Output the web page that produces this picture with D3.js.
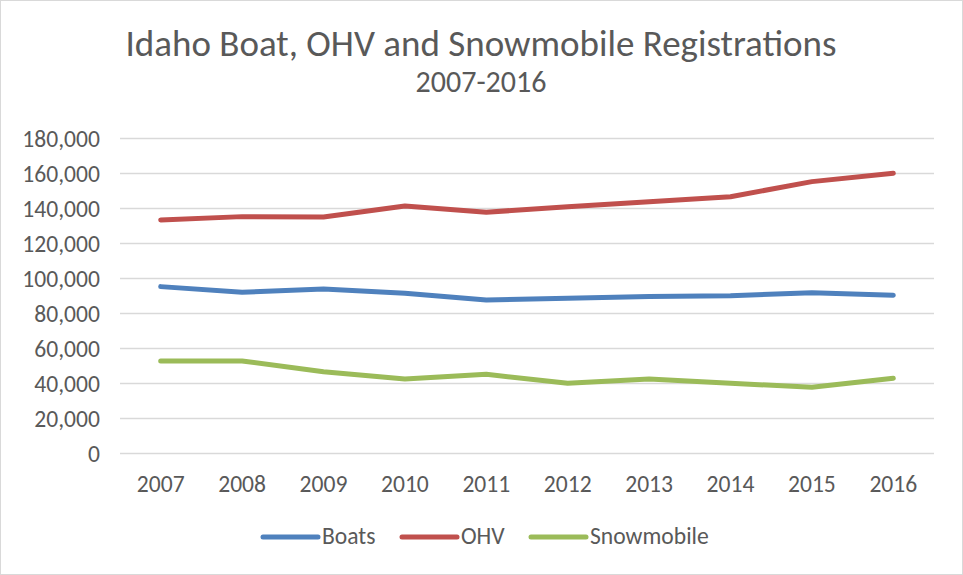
<!DOCTYPE html>
<html>
<head>
<meta charset="utf-8">
<script src="https://cdn.jsdelivr.net/npm/d3@7"></script>
<style>
  body { margin:0; background:#fff; }
  text { font-family: Calibri, Carlito, "Open Sans", sans-serif; fill:#595959; }
</style>
</head>
<body>
<svg id="chart" width="963" height="575"></svg>
<script>
var years = ['2007','2008','2009','2010','2011','2012','2013','2014','2015','2016'];
var boats = [94900, 91700, 93500, 91100, 87300, 88300, 89200, 89700, 91400, 90000];
var ohv = [133000, 134900, 134700, 141000, 137400, 140600, 143400, 146300, 154900, 159700];
var snowmobile = [52400, 52400, 46300, 42100, 44800, 39700, 42100, 39700, 37400, 42500];
var yTicks = [0, 20000, 40000, 60000, 80000, 100000, 120000, 140000, 160000, 180000];
var seriesNames = ['Boats', 'OHV', 'Snowmobile'];
var colors = ['#4f81bd', '#c0504d', '#9bbb59'];

var svg = d3.select('#chart');

// outer frame
svg.append('rect')
	.attr('x', 0.5).attr('y', 0.5)
	.attr('width', 962).attr('height', 574)
	.attr('fill', '#fff')
	.attr('stroke', '#d9d9d9');

var x = d3.scaleBand().domain(years).range([120, 934]);
var y = d3.scaleLinear().domain([0, 180000]).range([452.7, 137.7]);

// gridlines
svg.append('g')
	.selectAll('line')
	.data(yTicks)
	.enter().append('line')
	.attr('x1', 120).attr('x2', 934)
	.attr('y1', function(d){ return Math.round(y(d)) + 0.5; })
	.attr('y2', function(d){ return Math.round(y(d)) + 0.5; })
	.attr('stroke', '#d9d9d9')
	.attr('stroke-width', 1.3);

// y axis labels
var yAxis = d3.axisLeft(y).tickValues(yTicks).tickSize(0).tickPadding(0)
	.tickFormat(d3.format(','));
var gy = svg.append('g').attr('transform', 'translate(100,1)').call(yAxis);
gy.select('.domain').remove();
gy.selectAll('text')
	.style('font-size', '23.6px')
	.attr('fill', '#595959')
	.attr('dy', '0.34em');

// x axis labels
var xAxis = d3.axisBottom(x).tickSize(0).tickPadding(0);
var gx = svg.append('g').attr('transform', 'translate(0,492)').call(xAxis);
gx.select('.domain').remove();
gx.selectAll('text')
	.style('font-size', '23.6px')
	.attr('fill', '#595959')
	.attr('dy', '0');

var line = d3.line()
	.x(function(d, i){ return x(years[i]) + x.bandwidth() / 2; })
	.y(function(d){ return y(d); });

var allSeries = [boats, ohv, snowmobile];
svg.append('g')
	.selectAll('path')
	.data(allSeries)
	.enter().append('path')
	.attr('d', line)
	.attr('fill', 'none')
	.attr('stroke', function(d, i){ return colors[i]; })
	.attr('stroke-width', 5)
	.attr('stroke-linecap', 'round')
	.attr('stroke-linejoin', 'round');

// titles
svg.append('text')
	.attr('x', 481).attr('y', 56)
	.attr('text-anchor', 'middle')
	.style('font-size', '37px')
	.text('Idaho Boat, OHV and Snowmobile Registrations');
svg.append('text')
	.attr('x', 481).attr('y', 92)
	.attr('text-anchor', 'middle')
	.style('font-size', '30px')
	.text('2007-2016');

// legend
var legendX = [263, 402, 531];
var legend = svg.append('g')
	.selectAll('g')
	.data(seriesNames)
	.enter().append('g')
	.attr('transform', function(d, i){ return 'translate(' + legendX[i] + ',537)'; });
legend.append('line')
	.attr('x1', 0).attr('x2', 55)
	.attr('stroke', function(d, i){ return colors[i]; })
	.attr('stroke-width', 5)
	.attr('stroke-linecap', 'round');
legend.append('text')
	.attr('x', 59).attr('y', 7)
	.style('font-size', '23.6px')
	.text(function(d){ return d; });
</script>
</body>
</html>
